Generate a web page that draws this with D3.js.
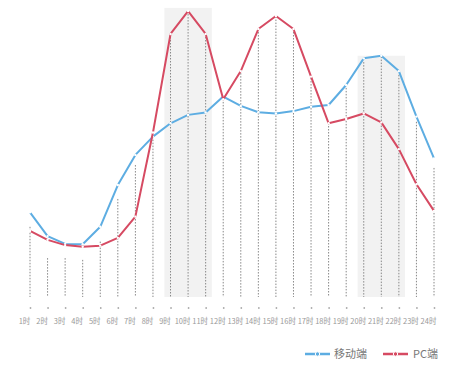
<!DOCTYPE html>
<html>
<head>
<meta charset="utf-8">
<script src="https://cdn.jsdelivr.net/npm/d3@7"></script>
<style>
  body { margin: 0; background: #fff; }
  svg { display: block; font-family: "Noto Sans CJK SC", "Noto Sans", sans-serif; }
</style>
</head>
<body>
<div id="chart"></div>
<script>
const hours = ["1时","2时","3时","4时","5时","6时","7时","8时","9时","10时","11时","12时",
               "13时","14时","15时","16时","17时","18时","19时","20时","21时","22时","23时","24时"];
const mobile = [29.2, 21.0, 18.3, 18.2, 24.2, 38.6, 49.0, 55.3, 59.9, 62.8, 63.6, 69.1,
                65.9, 63.7, 63.3, 64.1, 65.6, 66.2, 73.1, 82.3, 83.2, 77.9, 62.2, 47.8];
const pc = [22.8, 19.7, 17.9, 17.3, 17.7, 20.4, 27.7, 56.7, 90.7, 98.6, 90.7, 68.2,
            77.9, 92.4, 96.9, 92.4, 76.0, 59.9, 61.4, 63.3, 60.2, 51.0, 38.9, 29.7];
// top of the dotted drop lines
const dropTop = [24.2, 13.4, 13.4, 12.8, 19.1, 33.8, 45.5, 55.3, 90.7, 98.6, 90.7, 68.3,
                 77.2, 92.4, 96.7, 92.4, 75.5, 60.0, 72.1, 81.0, 82.9, 76.6, 60.4, 44.5];
// shaded peak periods
const peakHours = ["10时", "21时"];
const peakValues = [99.7, 83.2];
const seriesNames = ["移动端", "PC端"];
const colors = ["#5dade2", "#d64a62"];

const width = 449, height = 367;
const margin = { top: 7, bottom: 70, left: 30, right: 15 };

const svg = d3.select("#chart").append("svg")
  .attr("width", width).attr("height", height);

const x = d3.scalePoint().domain(hours).range([margin.left, width - margin.right]);
const y = d3.scaleLinear().domain([0, 100]).range([297, margin.top]);
const step = x.step();

// peak shading
svg.append("g").selectAll("rect")
  .data(peakHours)
  .join("rect")
  .attr("x", (d) => x(d) - step * 1.35)
  .attr("width", step * 2.7)
  .attr("y", (d, i) => y(peakValues[i]))
  .attr("height", (d, i) => y(0) - y(peakValues[i]))
  .attr("fill", "#f2f2f2");

// dotted drop lines
svg.append("g").selectAll("line")
  .data(hours)
  .join("line")
  .attr("x1", (d) => x(d)).attr("x2", (d) => x(d))
  .attr("y1", (d, i) => y(dropTop[i]))
  .attr("y2", y(0))
  .attr("stroke", "#888")
  .attr("stroke-width", 1)
  .attr("stroke-dasharray", "1.5,1.5");

// x axis: dots and labels
const xAxis = svg.append("g")
  .attr("transform", "translate(0,308)")
  .call(d3.axisBottom(x).tickSize(0).tickPadding(13));
xAxis.select(".domain").remove();
xAxis.selectAll(".tick").append("circle")
  .attr("r", 0.9).attr("fill", "#aaa");
xAxis.selectAll("text")
  .attr("fill", "#999")
  .attr("font-size", "7.5px")
  .attr("dx", "-6px")
  .attr("dy", "0.35em")
  .attr("font-family", "\"Noto Sans CJK SC\", sans-serif");

// lines
const line = d3.line().x((d, i) => x(hours[i])).y((d) => y(d));
[mobile, pc].forEach((vals, k) => {
  svg.append("path")
    .datum(vals)
    .attr("d", line)
    .attr("fill", "none")
    .attr("stroke", colors[k])
    .attr("stroke-width", 2)
    .attr("stroke-linejoin", "round");
  svg.append("g").selectAll("circle")
    .data(vals)
    .join("circle")
    .attr("cx", (d, i) => x(hours[i]))
    .attr("cy", (d) => y(d))
    .attr("r", 1.2)
    .attr("fill", "#fff");
});

// legend
const legend = svg.append("g").attr("transform", "translate(305,354)");
const legendX = [0, 78];
seriesNames.forEach((name, k) => {
  const lg = legend.append("g").attr("transform", `translate(${legendX[k]},0)`);
  lg.append("line").attr("x1", 0).attr("x2", 25).attr("y1", 0).attr("y2", 0)
    .attr("stroke", colors[k]).attr("stroke-width", 2.5);
  lg.append("circle").attr("cx", 12.5).attr("cy", 0).attr("r", 2.2)
    .attr("fill", colors[k]).attr("stroke", "#fff").attr("stroke-width", 1);
  lg.append("text").attr("x", k === 0 ? 29 : 30).attr("y", 0).attr("dy", "0.35em")
    .attr("font-size", "11px").attr("fill", "#777").text(name);
});
</script>
</body>
</html>
